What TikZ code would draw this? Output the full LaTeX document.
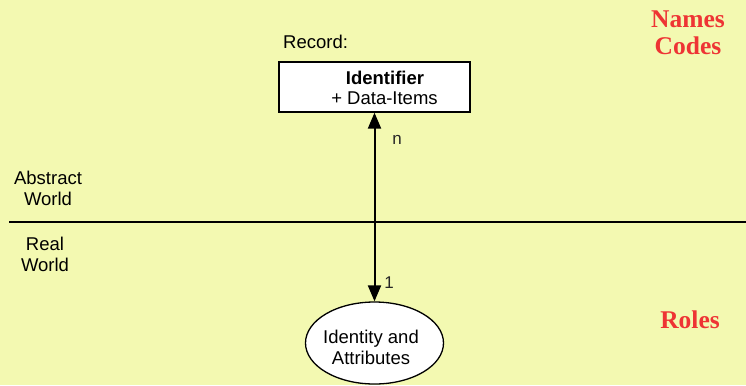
\documentclass[tikz,border=0pt]{standalone}
\usepackage{fontspec}
\setmainfont{Liberation Sans}
\newfontfamily\headfont{Liberation Serif}
\usetikzlibrary{arrows.meta,shapes.geometric}
\definecolor{paper}{RGB}{243,249,177}
\definecolor{accent}{RGB}{238,52,52}
\tikzset{
  body/.style={font=\fontsize{18.5bp}{21bp}\selectfont, align=center, inner sep=0pt},
  tag/.style={font=\fontsize{17bp}{20bp}\selectfont, inner sep=0pt, text=black!85},
  heading/.style={font=\headfont\bfseries\fontsize{25.5bp}{27bp}\selectfont, text=accent, align=center, inner sep=0pt},
  recbox/.style={draw, line width=1.3bp, fill=white, minimum width=191bp, minimum height=50bp, inner sep=0pt},
  entity/.style={ellipse, draw, line width=1.3bp, fill=white, minimum width=138bp, minimum height=82bp, inner sep=0pt},
  link/.style={line width=2bp, {Triangle[length=16bp,width=13bp]}-{Triangle[length=16bp,width=13bp]}},
  divider/.style={line width=2bp}
}
\begin{document}
\begin{tikzpicture}[x=1bp,y=-1bp]
  % page background
  \fill[paper] (0,0) rectangle (746,385);
  \useasboundingbox (0,0) rectangle (746,385);

  % record box and entity ellipse
  \node[recbox] (rec) at (374.5,87) {};
  \node[body, font=\fontsize{18.5bp}{21bp}\selectfont\bfseries] (ident) at (385,78) {Identifier};
  \node[body] (items) at (384.5,98) {+ Data-Items};
  \node[body, anchor=west] (reclabel) at (283,42) {Record:};
  \node[entity] (ent) at (374.5,343) {};
  \node[body] (enttext) at (371,347) {Identity and\\Attributes};

  % relationship with cardinalities
  \draw[link] (rec.south) -- (ent.north);
  \node[tag] (many) at (397,140) {n};
  \node[tag] (one) at (389,283) {1};

  % boundary between abstract and real world
  \coordinate (divL) at (9,222);
  \coordinate (divR) at (746,222);
  \draw[divider] (divL) -- (divR);
  \node[body] (abstract) at (48,188) {Abstract\\World};
  \node[body] (real) at (45,254) {Real\\World};

  % side headings
  \node[heading] (names) at (688,33) {Names\\Codes};
  \node[heading] (roles) at (690,320) {Roles};
\end{tikzpicture}
\end{document}
